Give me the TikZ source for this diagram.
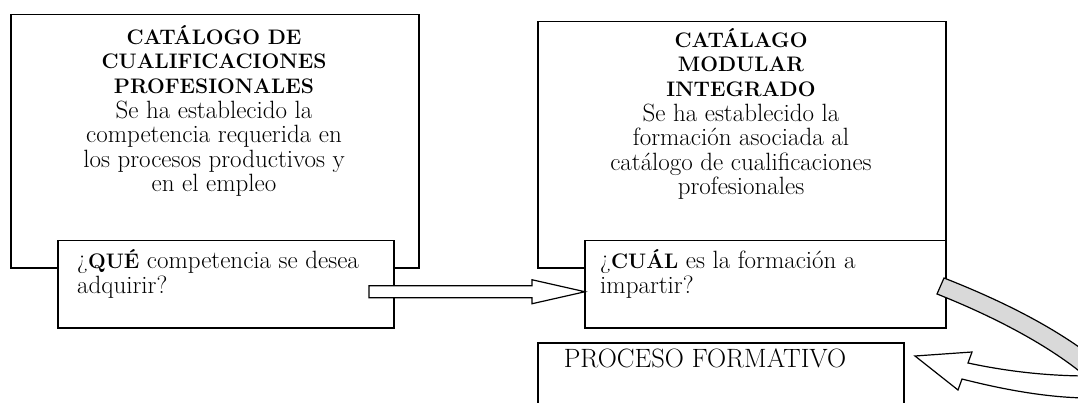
\documentclass[tikz,border=0pt]{standalone}
\usepackage{fontspec}
\usetikzlibrary{calc}
\newcommand\ttl[1]{{\fontsize{21}{24.6}\selectfont\bfseries #1}}
\newcommand\qb[1]{{\fontsize{21}{24.6}\selectfont\bfseries #1}}
\begin{document}
\begin{tikzpicture}[x=1pt,y=-1pt,
  box/.style={draw, line width=1.5pt, fill=white, inner sep=0pt, anchor=north west},
  txt/.style={inner sep=0pt, font=\fontsize{25}{24.6}\selectfont},
  blockarrow/.style={draw, line width=1.2pt, fill=white, line join=miter}]
\useasboundingbox (0,0) rectangle (1078,403);
\clip (0,0) rectangle (1078,403);
% boxes
\node[box, minimum width=408pt, minimum height=253pt] (cat1) at (10,14) {};
\node[box, minimum width=336pt, minimum height=87pt] (q1) at (57,240) {};
\node[box, minimum width=408pt, minimum height=246pt] (cat2) at (537,21) {};
\node[box, minimum width=361pt, minimum height=87pt] (q2) at (584,240) {};
\node[box, minimum width=366pt, minimum height=90pt] (proc) at (537,342) {};
% texts (anchor=base is the baseline of the last line)
\node[txt, align=center, anchor=base] (t1) at (214,192) {\ttl{CATÁLOGO DE}\\\ttl{CUALIFICACIONES}\\\ttl{PROFESIONALES}\\Se ha establecido la\\competencia requerida en\\los procesos productivos y\\en el empleo};
\node[txt, align=center, anchor=base] (t2) at (741,195) {\ttl{CATÁLAGO}\\\ttl{MODULAR}\\\ttl{INTEGRADO}\\Se ha establecido la\\formación asociada al\\catálogo de cualificaciones\\profesionales};
\node[txt, align=left, anchor=base west] (tq1) at (77,293) {¿\qb{QUÉ} competencia se desea\\adquirir?};
\node[txt, align=left, anchor=base west] (tq2) at (600,293) {¿\qb{CUÁL} es la formación a\\impartir?};
\node[txt, anchor=base, font=\fontsize{26.5}{26}\selectfont] (tp) at (705,367) {PROCESO FORMATIVO};
% block arrow q1 -> q2
\path (q2.west) ++(1,7.5) coordinate (tip);
\draw[blockarrow] (tip) -- ++(-53,-12) -- ++(0,6) -- ++(-163,0) -- ++(0,12) -- ++(163,0) -- ++(0,6) -- cycle;
% curved arrow q2 -> proc
\coordinate (cs1) at (944,278);
\coordinate (cs2) at (937,294);
\draw[blockarrow, fill=gray!30] (cs1) .. controls (1000,300) and (1050,325) .. (1090,355)
  -- (1090,380) .. controls (1050,345) and (990,315) .. (cs2) -- cycle;
\coordinate (ctip) at (915,356);
\draw[blockarrow] (ctip) -- (972,352) -- (968,363) .. controls (1010,372) and (1050,376) .. (1090,376)
  -- (1090,398) .. controls (1050,398) and (1005,390) .. (962,379) -- (958,390) -- cycle;
\end{tikzpicture}
\end{document}
